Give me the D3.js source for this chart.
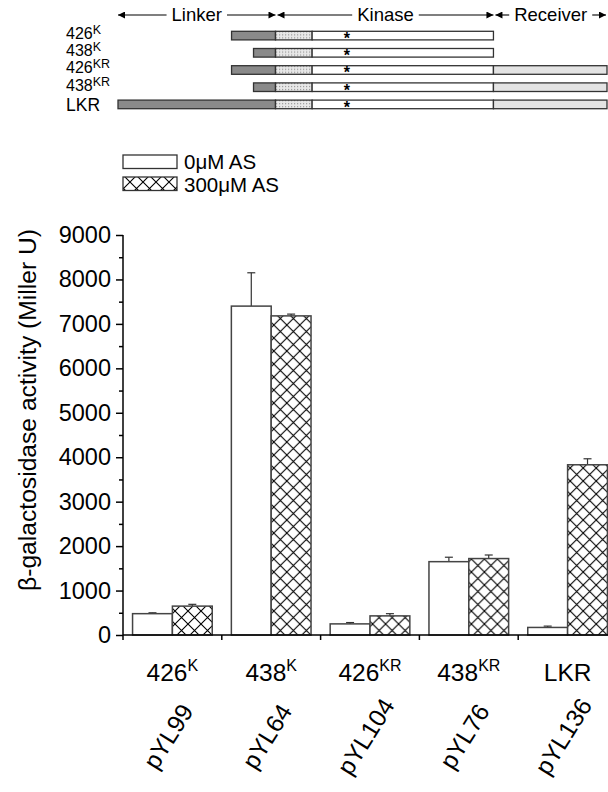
<!DOCTYPE html>
<html>
<head>
<meta charset="utf-8">
<script src="https://cdn.jsdelivr.net/npm/d3@7"></script>
<style>
  body { margin: 0; background: #fff; }
  svg text { font-family: "Liberation Sans", Arial, sans-serif; fill: #000; }
</style>
</head>
<body>
<svg id="chart" width="608" height="792"></svg>
<script>
// bar chart data
var constructs = ['426', '438', '426', '438', 'LKR'];
var superscripts = ['K', 'K', 'KR', 'KR', ''];
var plasmids = ['pYL99', 'pYL64', 'pYL104', 'pYL76', 'pYL136'];
var series = ['0\u03bcM AS', '300\u03bcM AS'];
var noAS = [480, 7400, 250, 1650, 170];
var noASErr = [20, 750, 30, 100, 30];
var withAS = [650, 7180, 430, 1720, 3830];
var withASErr = [40, 40, 50, 80, 135];
var yTicks = [0, 1000, 2000, 3000, 4000, 5000, 6000, 7000, 8000, 9000];

// domain diagram data (residue numbers)
var domainStart = [426, 438, 426, 438, 364];
var domainEnd = [569, 569, 631, 631, 631];
var linkerEnd = 450, hingeEnd = 470, kinaseEnd = 569, receiverEnd = 631, starPos = 489;
var regionNames = ['Linker', 'Kinase', 'Receiver'];
var regionBounds = [[364, 450], [450, 569], [569, 631]];

var svg = d3.select('#chart');
var defs = svg.append('defs');

var hatch = defs.append('pattern').attr('id', 'hatch')
    .attr('patternUnits', 'userSpaceOnUse').attr('width', 13).attr('height', 13);
hatch.append('rect').attr('width', 13).attr('height', 13).attr('fill', '#fff');
hatch.append('path').attr('d', 'M-2,-2L15,15M15,-2L-2,15')
    .attr('stroke', '#000').attr('stroke-width', 1.1);

var stipple = defs.append('pattern').attr('id', 'stipple')
    .attr('patternUnits', 'userSpaceOnUse').attr('width', 3).attr('height', 3);
stipple.append('rect').attr('width', 3).attr('height', 3).attr('fill', '#e8e8e8');
stipple.append('rect').attr('width', 1.2).attr('height', 1.2).attr('fill', '#999');

var arrow = defs.append('marker').attr('id', 'arr')
    .attr('viewBox', '0 0 10 10').attr('refX', 10).attr('refY', 5)
    .attr('markerWidth', 9).attr('markerHeight', 7)
    .attr('markerUnits', 'userSpaceOnUse').attr('orient', 'auto-start-reverse');
arrow.append('path').attr('d', 'M0,0L10,5L0,10z').attr('fill', '#000');

// ---- domain diagram ----
var dx = d3.scaleLinear().domain([364, 631]).range([118, 607]);
var dy = d3.scaleBand().domain(d3.range(5)).range([27, 113]).paddingInner(0.5).paddingOuter(0.25);

var header = svg.append('g');
regionBounds.forEach(function(b, i) {
    var x0 = dx(b[0]) + (i ? 2 : 0), x1 = dx(b[1]) - (i < 2 ? 0 : 1);
    var cx = (x0 + x1) / 2;
    var t = header.append('text').attr('x', cx).attr('y', 21)
        .attr('text-anchor', 'middle').attr('font-size', 18.5).text(regionNames[i]);
    var w = t.node().getComputedTextLength() / 2 + 5;
    header.append('line').attr('x1', cx - w).attr('x2', x0).attr('y1', 15).attr('y2', 15)
        .attr('stroke', '#000').attr('stroke-width', 1.1).attr('marker-end', 'url(#arr)');
    header.append('line').attr('x1', cx + w).attr('x2', x1).attr('y1', 15).attr('y2', 15)
        .attr('stroke', '#000').attr('stroke-width', 1.1).attr('marker-end', 'url(#arr)');
});

var rows = svg.append('g').selectAll('g').data(d3.range(5)).enter().append('g')
    .attr('transform', function(i) { return 'translate(0,' + dy(i) + ')'; });
var bh = dy.bandwidth();

function seg(g, a, b, fill) {
    g.append('rect').attr('x', dx(a)).attr('width', dx(b) - dx(a)).attr('height', bh)
        .attr('fill', fill).attr('stroke', '#333').attr('stroke-width', 1.3);
}
rows.each(function(i) {
    var g = d3.select(this);
    seg(g, domainStart[i], linkerEnd, '#8a8a8a');
    seg(g, linkerEnd, hingeEnd, 'url(#stipple)');
    seg(g, hingeEnd, kinaseEnd, '#fff');
    if (domainEnd[i] > kinaseEnd) seg(g, kinaseEnd, receiverEnd, '#e3e3e3');
    g.append('text').attr('x', dx(starPos)).attr('y', bh + 4).attr('text-anchor', 'middle')
        .attr('font-size', 16).attr('font-weight', 'bold').text('*');
    var lab = g.append('text').attr('x', 66).attr('y', bh + (i === 4 ? 2.5 : -1))
        .attr('font-size', i === 4 ? 17.5 : 16).text(constructs[i]);
    if (superscripts[i]) lab.append('tspan').attr('font-size', 12.5).attr('dy', -5).text(superscripts[i]);
});

// ---- legend ----
var legend = svg.append('g');
series.forEach(function(s, i) {
    legend.append('rect').attr('x', 123).attr('y', 155 + i * 22).attr('width', 54).attr('height', 13.5)
        .attr('fill', i ? 'url(#hatch)' : '#fff').attr('stroke', '#333').attr('stroke-width', 1.3);
    legend.append('text').attr('x', 184).attr('y', 169 + i * 23).attr('font-size', 20.5).text(s);
});

// ---- bar chart ----
var y = d3.scaleLinear().domain([0, 9000]).range([635, 235]);
var x = d3.scaleBand().domain(d3.range(5)).range([123, 617]);
var xs = d3.scaleBand().domain([0, 1]).range([0, x.bandwidth()]).paddingOuter(0.24);

var bars = svg.append('g');
var groups = bars.selectAll('g').data(d3.range(5)).enter().append('g')
    .attr('transform', function(i) { return 'translate(' + x(i) + ',0)'; });

[[noAS, noASErr], [withAS, withASErr]].forEach(function(s, k) {
    var cx = xs(k) + xs.bandwidth() / 2;
    groups.append('line')
        .attr('x1', cx).attr('x2', cx)
        .attr('y1', function(i) { return y(s[0][i]); })
        .attr('y2', function(i) { return y(s[0][i] + s[1][i]); })
        .attr('stroke', '#333').attr('stroke-width', 1.2);
    groups.append('line')
        .attr('x1', cx - 4).attr('x2', cx + 4)
        .attr('y1', function(i) { return y(s[0][i] + s[1][i]); })
        .attr('y2', function(i) { return y(s[0][i] + s[1][i]); })
        .attr('stroke', '#333').attr('stroke-width', 1.2);
    groups.append('rect')
        .attr('x', xs(k)).attr('width', xs.bandwidth())
        .attr('y', function(i) { return y(s[0][i]); })
        .attr('height', function(i) { return y(0) - y(s[0][i]); })
        .attr('fill', k ? 'url(#hatch)' : '#fff')
        .attr('stroke', '#444').attr('stroke-width', 1.5);
});

// y axis
var yAxis = svg.append('g').attr('transform', 'translate(123,0)')
    .call(d3.axisLeft(y).tickValues(yTicks).tickSize(7).tickPadding(5).tickFormat(d3.format('d')));
svg.append('g').attr('transform', 'translate(123,0)')
    .call(d3.axisLeft(y).tickValues(d3.range(500, 9000, 1000)).tickSize(4).tickFormat(''))
    .select('.domain').remove();
yAxis.selectAll('text').attr('font-size', 23.5).attr('font-family', '"Liberation Sans", Arial, sans-serif');
yAxis.select('.domain').attr('stroke-width', 1.5).attr('d', 'M0,' + y(9000) + 'V' + y(0));
svg.selectAll('.tick line').attr('stroke-width', 1.5);

// x axis
var xAxis = svg.append('g').attr('transform', 'translate(0,' + y(0) + ')');
xAxis.append('line').attr('x1', 123).attr('x2', 608).attr('stroke', '#000').attr('stroke-width', 1.5);
xAxis.selectAll('.xt').data(d3.range(5)).enter().append('line')
    .attr('x1', function(i) { return x(i); }).attr('x2', function(i) { return x(i); })
    .attr('y1', 0).attr('y2', 5).attr('stroke', '#000').attr('stroke-width', 1.5);

var catLab = svg.append('g').selectAll('text').data(d3.range(5)).enter().append('text')
    .attr('x', function(i) { return x(i) + x.bandwidth() / 2; })
    .attr('y', 681).attr('text-anchor', 'middle').attr('font-size', 24.5)
    .text(function(i) { return constructs[i]; });
catLab.filter(function(i) { return superscripts[i]; }).append('tspan')
    .attr('font-size', 16).attr('dy', -10).text(function(i) { return superscripts[i]; });

svg.append('g').selectAll('text').data(d3.range(5)).enter().append('text')
    .attr('transform', function(i) { return 'translate(' + (x(i) + x.bandwidth() / 2 + 3) + ',741) rotate(-58)'; })
    .attr('text-anchor', 'middle').attr('font-size', 24.5)
    .text(function(i) { return plasmids[i]; });

// y title
svg.append('text').attr('transform', 'translate(36,410) rotate(-90)')
    .attr('text-anchor', 'middle').attr('font-size', 23)
    .attr('textLength', 362).attr('lengthAdjust', 'spacingAndGlyphs')
    .text('\u03b2-galactosidase activity (Miller U)');
</script>
</body>
</html>
